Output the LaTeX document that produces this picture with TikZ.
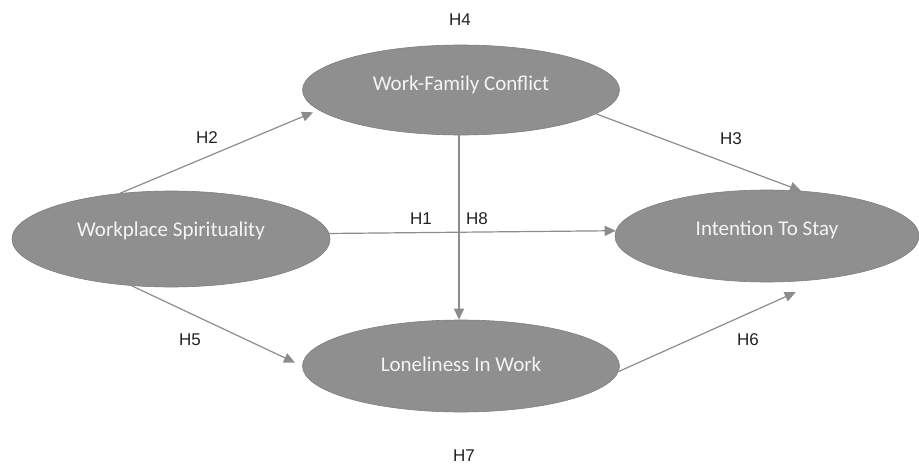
\documentclass[tikz,border=0pt]{standalone}
\usepackage{fontspec}
\setmainfont{Carlito}
\newfontfamily\hfont{Liberation Sans}
\usetikzlibrary{shapes.geometric,arrows.meta}
\definecolor{ellfill}{HTML}{8F8F8F}
\definecolor{ellline}{HTML}{7E7E7E}
\definecolor{arrcol}{HTML}{8C8C8C}
\definecolor{txtcol}{HTML}{F4F4F4}
\definecolor{hcol}{HTML}{222222}
\tikzset{
  construct/.style={ellipse, fill=ellfill, draw=ellline, line width=0.6pt, inner sep=0pt},
  ctext/.style={text=txtcol, font=\fontsize{21}{24}\selectfont, inner sep=0pt},
  hyp/.style={text=hcol, font=\hfont\fontsize{17}{20}\selectfont, inner sep=0pt},
  arr/.style={draw=arrcol, line width=1.2pt, -{Triangle[length=11pt,width=10pt]}}
}
\begin{document}
\begin{tikzpicture}[x=1pt,y=-1pt]
\useasboundingbox (0,0) rectangle (919,466);
% constructs
\node[construct, minimum width=318pt, minimum height=96pt] (ws) at (171,239) {};
\node[construct, minimum width=317pt, minimum height=90pt] (wfc) at (461,90) {};
\node[construct, minimum width=304pt, minimum height=92pt] (its) at (767,236) {};
\node[construct, minimum width=317pt, minimum height=92pt] (liw) at (461,366) {};
\node[ctext] (wst) at ([yshift=8pt]ws.center) {Workplace Spirituality};
\node[ctext] (wfct) at ([yshift=5pt]wfc.center) {Work-Family Conflict};
\node[ctext] (itst) at ([yshift=6pt]its.center) {Intention To Stay};
\node[ctext] (liwt) at ([yshift=2pt]liw.center) {Loneliness In Work};
% connectors
\draw[arr, shorten >=6pt] (ws.138) -- (wfc.188);
\draw[arr] (ws.2) -- (its.178);
\draw[arr, shorten >=8pt] (ws.230) -- (liw.180);
\draw[arr] (wfc.350) -- (its.53);
\draw[arr] ([xshift=-2pt]wfc.south) -- ([xshift=-2pt]liw.north);
\draw[arr, shorten >=33pt] (liw.358) -- (its.324);
% hypothesis labels
\node[hyp] (h4) at (460,20) {H4};
\node[hyp] (h2) at (207,138) {H2};
\node[hyp] (h3) at (731,139) {H3};
\node[hyp] (h1) at (421,219) {H1};
\node[hyp] (h8) at (477,219) {H8};
\node[hyp] (h5) at (190,340) {H5};
\node[hyp] (h6) at (748,340) {H6};
\node[hyp] (h7) at (464,456) {H7};
\end{tikzpicture}
\end{document}
